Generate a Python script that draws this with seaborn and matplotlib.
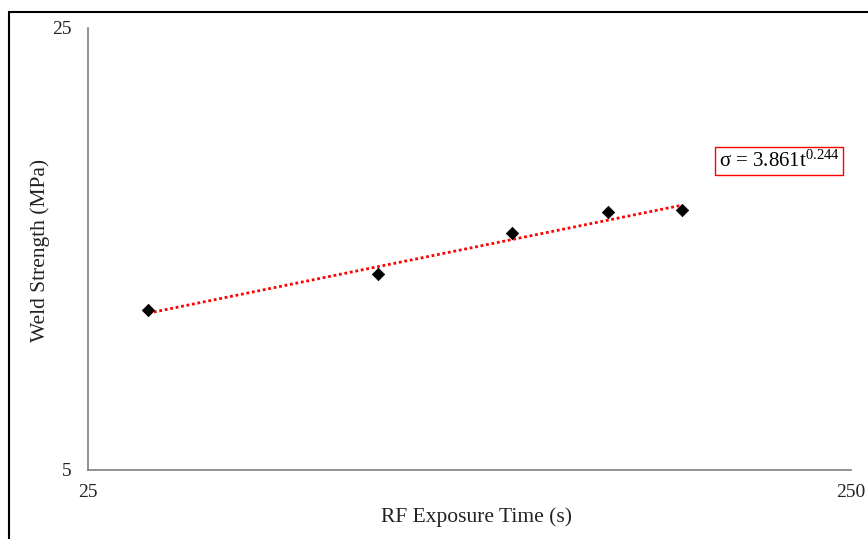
import numpy as np
import pandas as pd
import matplotlib
matplotlib.use("Agg")
import matplotlib.pyplot as plt
from matplotlib.patches import Rectangle
import seaborn as sns

# Data
exposure_time = [30, 60, 90, 120, 150]
weld_strength = [8.94, 10.2, 11.85, 12.8, 12.9]
fit_a = 3.861
fit_b = 0.244
x_ticks = [25, 250]
y_ticks = [5, 25]

df = pd.DataFrame({"t": exposure_time, "s": weld_strength})
t_line = np.geomspace(exposure_time[0], exposure_time[-1], 50)
trend = pd.DataFrame({"t": t_line, "s": fit_a * t_line ** fit_b})

sns.set_theme(style="white")
plt.rcParams["font.family"] = ["Liberation Serif", "DejaVu Serif"]
plt.rcParams["mathtext.fontset"] = "custom"
plt.rcParams["mathtext.rm"] = "Liberation Serif"
plt.rcParams["mathtext.it"] = "Liberation Serif:italic"

fig = plt.figure(figsize=(8.68, 5.39), dpi=100)
ax = fig.add_axes([88 / 868, 1 - 470 / 539, (851 - 88) / 868, (470 - 28) / 539])

sns.lineplot(data=trend, x="t", y="s", ax=ax, color="red", linestyle=(0, (1, 1)),
             linewidth=2.0)
sns.scatterplot(data=df, x="t", y="s", ax=ax, marker="D", s=40, color="black",
                edgecolor="black", linewidth=0.5, zorder=3)

ax.set_xscale("log")
ax.set_yscale("log")
ax.set_xlim(x_ticks[0], x_ticks[1])
ax.set_ylim(y_ticks[0], y_ticks[1])
ax.set_xticks(x_ticks)
ax.set_xticklabels([str(v) for v in x_ticks])
ax.set_yticks(y_ticks)
ax.set_yticklabels([str(v) for v in y_ticks])
ax.xaxis.set_minor_locator(matplotlib.ticker.NullLocator())
ax.yaxis.set_minor_locator(matplotlib.ticker.NullLocator())
ax.tick_params(axis="both", length=0, labelsize=14, colors="#222222")
ax.tick_params(axis="x", pad=10)
ax.tick_params(axis="y", pad=12)

for side in ["top", "right"]:
    ax.spines[side].set_visible(False)
for side in ["left", "bottom"]:
    ax.spines[side].set_color("#7f7f7f")
    ax.spines[side].set_linewidth(1.2)

ax.set_xlabel("RF Exposure Time (s)", fontsize=15.5, color="#222222")
ax.set_ylabel("Weld Strength (MPa)", fontsize=15.5, color="#222222")
ax.xaxis.set_label_coords((476 - 88) / (851 - 88), -(517 - 470) / (470 - 28))
ax.xaxis.label.set_va("center")
ax.yaxis.set_label_coords(-(88 - 40) / (851 - 88), (470 - 250) / (470 - 28))
ax.yaxis.label.set_va("center")

fig.text(779 / 868, 1 - 161 / 539, r"σ = 3.861t$^{0.244}$", fontsize=15,
         ha="center", va="center", color="black",
         bbox=dict(boxstyle="square,pad=0.15", facecolor="white", edgecolor="red",
                   linewidth=1.0))

# outer chart border (extends past right/bottom edges)
fig.patches.append(Rectangle((9 / 868, -0.05), 1.1, 1 - 12 / 539 + 0.05,
                             transform=fig.transFigure, fill=False,
                             edgecolor="black", linewidth=1.5, clip_on=False))

fig.savefig("out.png", dpi=100)
